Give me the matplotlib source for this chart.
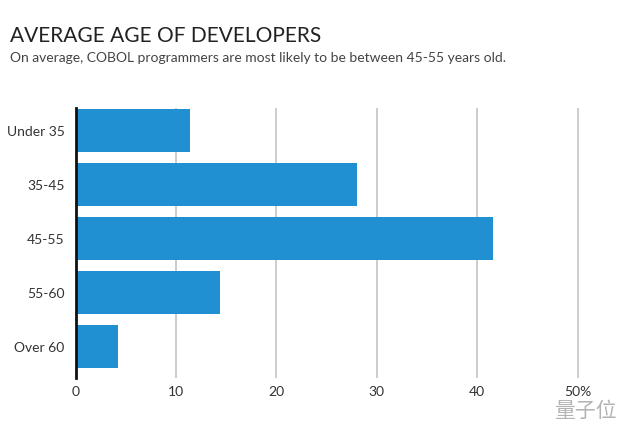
import matplotlib
matplotlib.use('Agg')
from matplotlib import pyplot as plt

groups = ['Under 35', '35-45', '45-55', '55-60', 'Over 60']
share = [11.4, 28.0, 41.6, 14.4, 4.2]
x_ticks = [0, 10, 20, 30, 40, 50]
x_tick_labels = ['0', '10', '20', '30', '40', '50%']

plt.rcParams['font.family'] = ['Lato', 'Noto Sans CJK SC', 'DejaVu Sans']

fig = plt.figure(figsize=(6.4, 4.25), dpi=100)
ax = fig.add_axes([0.118, 0.1106, 0.863, 0.6353])

ax.barh(range(len(groups)), share, height=0.8, color='#2190d2', zorder=3)
ax.set_ylim(4.583, -0.417)
ax.set_xlim(0, 55)

ax.set_yticks(range(len(groups)))
ax.set_yticklabels(groups, fontsize=10, color='#333333')
ax.set_xticks(x_ticks)
ax.set_xticklabels(x_tick_labels, fontsize=10, color='#333333')
ax.tick_params(length=0, pad=6)
ax.tick_params(axis='y', pad=8)

ax.grid(axis='x', color='#c4c4c4', linewidth=1.2, zorder=0)
for s in ['top', 'right', 'bottom']:
    ax.spines[s].set_visible(False)
ax.spines['left'].set_color('#111111')
ax.spines['left'].set_linewidth(2)
ax.spines['left'].set_zorder(4)

fig.text(0.016, 0.902, 'AVERAGE AGE OF DEVELOPERS', fontsize=15, color='#222222')
fig.text(0.016, 0.855, 'On average, COBOL programmers are most likely to be between 45-55 years old.',
         fontsize=10, color='#444444')

# watermark
fig.text(0.915, 0.018, '量子位', fontsize=15, color='#a0a0a0', alpha=0.8,
         family=['Noto Sans CJK SC', 'DejaVu Sans'], ha='center')

fig.savefig('out.png', dpi=100)
